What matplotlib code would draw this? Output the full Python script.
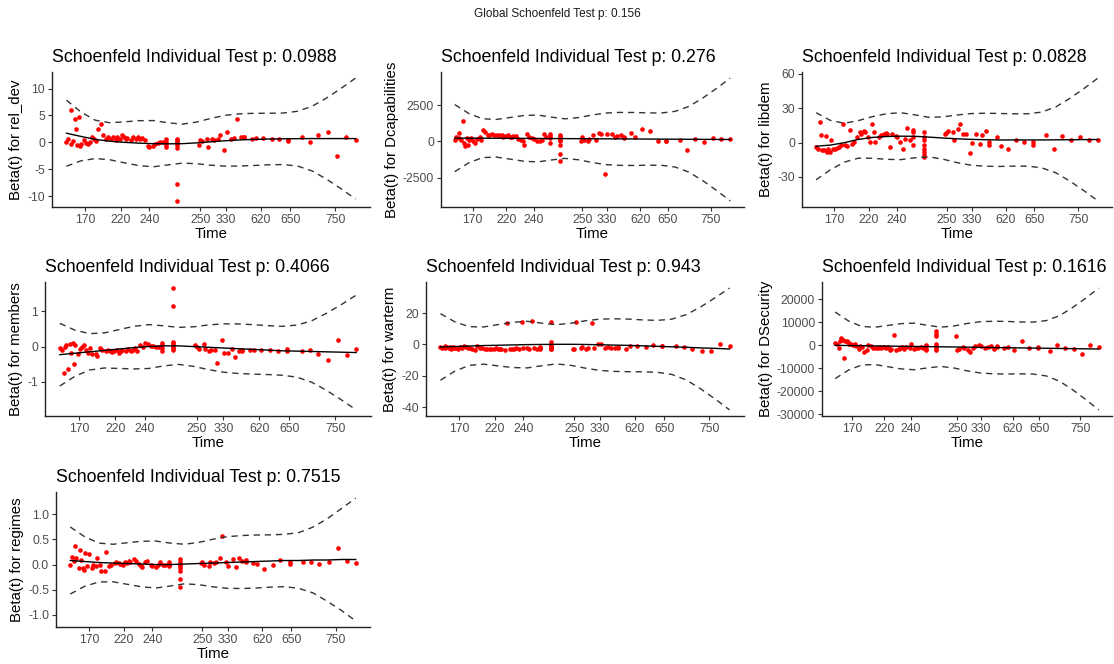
import matplotlib
matplotlib.use("Agg")
import matplotlib.pyplot as plt
import numpy as np

plt.rcParams['font.family'] = ['Liberation Sans', 'DejaVu Sans']

W, H = 1114, 664

# transformed event-time positions (shared by all panels)
event_pos = [0.000, 0.006, 0.014, 0.017, 0.021, 0.029, 0.034, 0.037, 0.043, 0.048,
             0.052, 0.060, 0.067, 0.075, 0.080, 0.090, 0.095, 0.103, 0.109, 0.121,
             0.126, 0.136, 0.144, 0.155, 0.161, 0.170, 0.175, 0.184, 0.193, 0.199,
             0.207, 0.210, 0.224, 0.230, 0.241, 0.247, 0.253, 0.261, 0.270, 0.282,
             0.287, 0.299, 0.308, 0.316, 0.324, 0.333,
             0.345, 0.345, 0.345, 0.345,
             0.383, 0.383, 0.383, 0.383, 0.383, 0.383, 0.383, 0.383,
             0.457, 0.462, 0.468, 0.485, 0.489, 0.503, 0.511, 0.523, 0.531, 0.546,
             0.554, 0.569, 0.580, 0.590, 0.603, 0.615, 0.615, 0.641, 0.655, 0.680,
             0.710, 0.736, 0.768, 0.768, 0.816, 0.843, 0.871, 0.906, 0.937, 0.968, 1.000]

time_tick_pos = [0.065, 0.187, 0.287, 0.463, 0.552, 0.673, 0.774, 0.930]
time_tick_labels = ["170", "220", "240", "250", "330", "620", "650", "750"]

variables = ["rel_dev", "Dcapabilities", "libdem", "members", "warterm", "DSecurity", "regimes"]
p_values = ["0.0988", "0.276", "0.0828", "0.4066", "0.943", "0.1616", "0.7515"]
global_p = "0.156"

resid_rel_dev = [0.1, 0.7, 6.0, -0.3, 0.3, 4.3, 2.5, -0.5, 4.7, -0.7, -0.4, 0.4, -0.1, -0.4, 0.1,
                 1.0, 0.6, 0.3, 2.4, 3.4, 1.4, 0.6, 0.9, 0.7, 1.0, 0.5, 0.9, 0.6, 1.3, 1.0,
                 0.6, 0.8, 0.5, 0.9, 0.7, 1.0, 0.6, 0.8, 0.4, -0.6, -0.8, -0.6, -0.3, -0.2, 0.1, 0.0,
                 0.7, 0.1, -0.5, -0.9,
                 0.7, 0.1, -0.5, -1.1, -7.7, -10.9, 0.4, -0.2,
                 -0.5, 0.4, 0.2, 0.6, -0.8, 0.7, 0.5, 0.6, 1.4, -1.5, 1.9, 0.7, 0.8, 4.3, 0.9,
                 0.9, 1.0, 0.7, 0.8, 0.8, 0.6, 0.6, 0.3, 0.5, 0.9, 0.0, 1.4, 2.0, -2.6, 1.0, 0.4]
resid_Dcapabilities = [110, 330, 550, 220, 110, 1370, -110, -330, 250, -220, 100, 220, 0, -110, 200,
                       330, 120, 770, 660, 440, 450, 480, 440, 460, 420, 470, 300, 350, 420, 330,
                       300, 380, 350, 200, 100, 0, -220, 500, 300, 250, 150, 60, 50, 100, 500, 300,
                       500, 220, -110, 350,
                       450, 220, 0, -220, -840, -1330, 100, 350,
                       0, 330, 100, 0, 200, 440, 110, 550, 500, -2200, 500, 490, 300, 400, 440,
                       330, 250, 550, 330, 870, 750, 60, 40, 0, 110, -600, 150, -70, 220, 180, 180]
resid_libdem = [-3.8, -5.2, 17.7, 7.0, -6.7, -6.7, 5.8, -8.1, -5.2, -8.1, 2.6, -5.2, -5.2, -4.3, -3.8,
                -1.7, 15.9, -2.3, -3.2, 10.7, -0.9, 0.6, 4.9, 9.3, 7.8, 10.1, 9.0, 4.9, 0.6, 15.9,
                9.3, 0.6, 4.9, 6.4, 7.8, 8.4, 7.2, -3.8, 7.8, 5.8, 4.9, 0.6, -5.2, 3.5, 12.8, 2.0,
                11.3, 4.9, -1.7, 9.3,
                9.3, 4.9, 2.0, -2.3, -5.2, -8.1, -11.0, -13.0,
                7.2, 8.4, 9.9, 9.3, 2.6, 12.2, 15.9, 7.2, 7.2, -9.0, -0.3, 7.8, -1.2, 7.0, 10.1,
                0.6, -1.7, 4.9, -3.2, -5.5, 2.0, 0.3, 0.3, -2.0, 6.4, -5.2, 6.1, 2.6, 4.9, 2.6, 2.6]
resid_members = [-0.05, -0.1, -0.76, 0.0, 0.05, -0.63, 0.07, -0.18, 0.1, -0.5, 0.05, -0.2, -0.07, 0.0, 0.04,
                 -0.1, -0.18, -0.05, -0.2, -0.22, -0.28, -0.05, -0.1, -0.14, -0.1, -0.12, -0.15, -0.14, -0.1, -0.18,
                 -0.13, -0.09, -0.12, -0.07, -0.14, -0.1, -0.05, -0.12, 0.04, -0.02, 0.09, 0.08, 0.02, 0.03, 0.0, -0.02,
                 -0.14, 0.05, 0.1, -0.03,
                 1.66, 1.15, 0.14, 0.09, 0.05, 0.0, -0.05, -0.1,
                 0.05, 0.0, -0.07, 0.06, -0.07, -0.14, -0.11, -0.09, -0.46, 0.18, -0.18, -0.18, -0.07, -0.30, -0.14,
                 -0.14, -0.10, -0.11, -0.09, -0.09, -0.09, -0.14, -0.07, -0.12, -0.14, -0.09, -0.20, -0.37, 0.18, -0.23, -0.07]
resid_warterm = [-1.5, -2.0, -1.2, -2.5, -1.8, -2.2, -1.5, -2.8, -1.9, -2.5, -2.0, -3.0, -1.6, -2.2, -0.8,
                 -1.5, -2.0, -2.4, -2.8, -3.5, -1.2, -2.5, -2.2, -2.8, -3.0, -2.6, -2.9, -3.1, -2.5, -2.7,
                 -3.2, -2.6, -3.3, 14.0, -3.0, -2.7, -3.2, -2.5, -2.9, 14.2, -2.4, -2.0, -2.6, 14.8, -2.2, -3.2,
                 -1.5, -2.9, -2.1, -2.5,
                 14.2, 1.7, -0.2, -1.0, -2.0, -2.8, -3.0, -1.5,
                 -3.0, -2.7, 14.2, -2.0, -1.6, -3.0, -2.2, 13.8, -2.0, 0.6, 0.4, -2.0, -1.8, -2.3, -2.0,
                 -1.6, -2.5, -2.9, -1.0, -1.3, -1.6, -0.5, -1.0, -0.8, -1.0, -1.4, -3.0, -4.2, -4.3, 0.6, -1.0]
resid_DSecurity = [1000, 700, -1000, 2100, 3300, 2500, -5400, 1800, 1800, 1400, 400, 700, 300, 400, -300,
                   -1700, -300, -700, -2900, -2100, 0, -400, -1000, -1000, -1000, -700, -1200, -700, -1000, -700,
                   -2100, -1400, 4600, -1900, -1400, -1000, -700, -1400, -700, -1000, 700, -1400, -1200, -1000, -700, -1000,
                   -1400, -500, -2000, 300,
                   6400, 5000, 3900, 400, -700, -1400, -2100, -300,
                   3900, -2100, -1400, -700, -1000, -1900, -2900, -1000, -400, 300, -300, -1000, -700, -400, -1700,
                   -700, -300, -1000, -700, -1900, 1700, -1000, -1100, -700, -2400, 0, -1100, -1600, -3600, 0, -600]
resid_regimes = [0.0, 0.15, 0.07, 0.37, 0.13, -0.07, 0.28, 0.1, -0.07, -0.1, 0.23, -0.03, 0.21, -0.07, 0.0,
                 -0.02, 0.12, 0.0, -0.13, -0.13, 0.24, -0.02, 0.0, 0.03, 0.05, 0.04, 0.02, 0.0, 0.05, 0.04,
                 0.07, 0.06, 0.11, 0.07, 0.02, -0.02, -0.05, 0.05, 0.07, 0.0, -0.03, -0.05, 0.0, 0.05, 0.0, 0.0,
                 0.0, -0.03, 0.02, 0.05,
                 0.11, 0.05, 0.0, -0.07, -0.13, -0.28, -0.44, -0.03,
                 0.03, 0.06, 0.0, -0.03, 0.05, 0.03, 0.06, 0.13, 0.57, 0.05, -0.03, 0.11, -0.05, 0.13, 0.08,
                 0.1, 0.05, 0.03, 0.02, -0.08, 0.0, 0.1, 0.05, 0.02, 0.05, 0.05, 0.02, 0.06, 0.33, 0.08, 0.03]

# smooth fit read at these positions
fit_pos = [0.0, 0.05, 0.1, 0.15, 0.2, 0.25, 0.3, 0.35, 0.4, 0.45, 0.5,
           0.55, 0.6, 0.65, 0.7, 0.75, 0.8, 0.85, 0.9, 0.95, 1.0]
fit_rel_dev = [1.7, 1.1, 0.55, 0.2, 0.0, -0.15, -0.25, -0.28, -0.25, -0.1, 0.1,
               0.3, 0.45, 0.55, 0.62, 0.66, 0.68, 0.7, 0.7, 0.7, 0.7]
fit_Dcapabilities = [230, 228, 225, 221, 216, 211, 206, 201, 196, 191, 186,
                     181, 176, 171, 166, 161, 156, 151, 146, 140, 135]
fit_libdem = [-3.2, -2.2, -0.1, 2.8, 4.5, 5.3, 5.6, 5.5, 4.8, 4.0, 3.3,
              2.8, 2.5, 2.3, 2.3, 2.3, 2.3, 2.4, 2.5, 2.6, 2.7]
fit_members = [-0.23, -0.19, -0.15, -0.11, -0.07, -0.03, 0.0, 0.02, 0.02, 0.0, -0.02,
               -0.04, -0.06, -0.08, -0.1, -0.12, -0.13, -0.14, -0.15, -0.16, -0.17]
fit_warterm = [-1.6, -1.3, -1.0, -0.7, -0.5, -0.3, -0.1, 0.0, 0.1, 0.1, 0.0,
               -0.2, -0.4, -0.6, -0.9, -1.2, -1.5, -1.8, -2.2, -2.5, -2.9]
fit_DSecurity = [0, -90, -170, -250, -330, -410, -480, -560, -640, -720, -800,
                 -880, -960, -1040, -1120, -1200, -1280, -1360, -1440, -1520, -1600]
fit_regimes = [0.08, 0.06, 0.04, 0.03, 0.02, 0.01, 0.0, 0.0, 0.01, 0.02, 0.03,
               0.04, 0.05, 0.06, 0.07, 0.08, 0.08, 0.09, 0.09, 0.1, 0.1]

# half-width of the confidence band (relative shape, common) and per-panel size
band_shape = [1.0, 0.74, 0.58, 0.56, 0.62, 0.68, 0.70, 0.64, 0.59, 0.63, 0.71,
              0.77, 0.79, 0.79, 0.78, 0.78, 0.83, 0.98, 1.23, 1.52, 1.83]
band_scale = [6.15, 2300, 29.3, 0.89, 21.25, 14500, 0.665]

y_ticks = [[-10, -5, 0, 5, 10],
           [-2500, 0, 2500],
           [-30, 0, 30, 60],
           [-1, 0, 1],
           [-40, -20, 0, 20],
           [-30000, -20000, -10000, 0, 10000, 20000],
           [-1.0, -0.5, 0.0, 0.5, 1.0]]
y_tick_fmt = ["{:g}", "{:g}", "{:g}", "{:g}", "{:g}", "{:g}", "{:.1f}"]

residuals = [resid_rel_dev, resid_Dcapabilities, resid_libdem, resid_members,
             resid_warterm, resid_DSecurity, resid_regimes]
fits = [fit_rel_dev, fit_Dcapabilities, fit_libdem, fit_members,
        fit_warterm, fit_DSecurity, fit_regimes]

# panel boxes in pixels: left, right, top, bottom
boxes = [(52, 370, 72, 207), (441, 744, 72, 207), (802, 1112, 72, 207),
         (45, 371, 282, 416), (426, 744, 282, 416), (822, 1112, 282, 416),
         (56, 370, 492, 627)]

fig = plt.figure(figsize=(W / 100, H / 100), dpi=100)
fig.text(0.5, 1 - 14 / H, "Global Schoenfeld Test p: " + global_p,
         ha="center", va="center", fontsize=8.5, color="#1a1a1a")

x = np.array(event_pos)
fx = np.array(fit_pos)
shape = np.array(band_shape)
for i in range(7):
    l, r, t, b = boxes[i]
    ax = fig.add_axes([l / W, 1 - b / H, (r - l) / W, (b - t) / H])
    y = np.array(residuals[i])
    f = np.array(fits[i])
    up = f + band_scale[i] * shape
    lo = f - band_scale[i] * shape
    ax.scatter(x, y, s=11, color="#FF0000", linewidths=0, zorder=2)
    ax.plot(fx, f, color="black", lw=1.0, zorder=3)
    ax.plot(fx, up, color="#333333", lw=1.0, ls=(0, (4.5, 3.5)), zorder=3)
    ax.plot(fx, lo, color="#333333", lw=1.0, ls=(0, (4.5, 3.5)), zorder=3)
    allv = np.concatenate([y, up, lo])
    ymin, ymax = allv.min(), allv.max()
    pad = 0.05 * (ymax - ymin)
    ax.set_ylim(ymin - pad, ymax + pad)
    ax.set_xlim(-0.05, 1.05)
    ax.set_xticks(time_tick_pos)
    ax.set_xticklabels(time_tick_labels)
    ax.set_yticks(y_ticks[i])
    ax.set_yticklabels([y_tick_fmt[i].format(v) for v in y_ticks[i]])
    for s in ["top", "right"]:
        ax.spines[s].set_visible(False)
    for s in ["left", "bottom"]:
        ax.spines[s].set_linewidth(1.0)
        ax.spines[s].set_color("#222222")
    ax.tick_params(axis="both", length=3, width=0.8, color="#333333",
                   labelsize=8.8, labelcolor="#4D4D4D", pad=2)
    ax.set_xlabel("Time", fontsize=10.8, color="black", labelpad=1)
    ax.set_ylabel("Beta(t) for " + variables[i], fontsize=10.8, color="black", labelpad=3)
    ax.set_title("Schoenfeld Individual Test p: " + p_values[i], loc="left",
                 fontsize=12.8, color="black", pad=7)

fig.savefig("out.png", dpi=100)
